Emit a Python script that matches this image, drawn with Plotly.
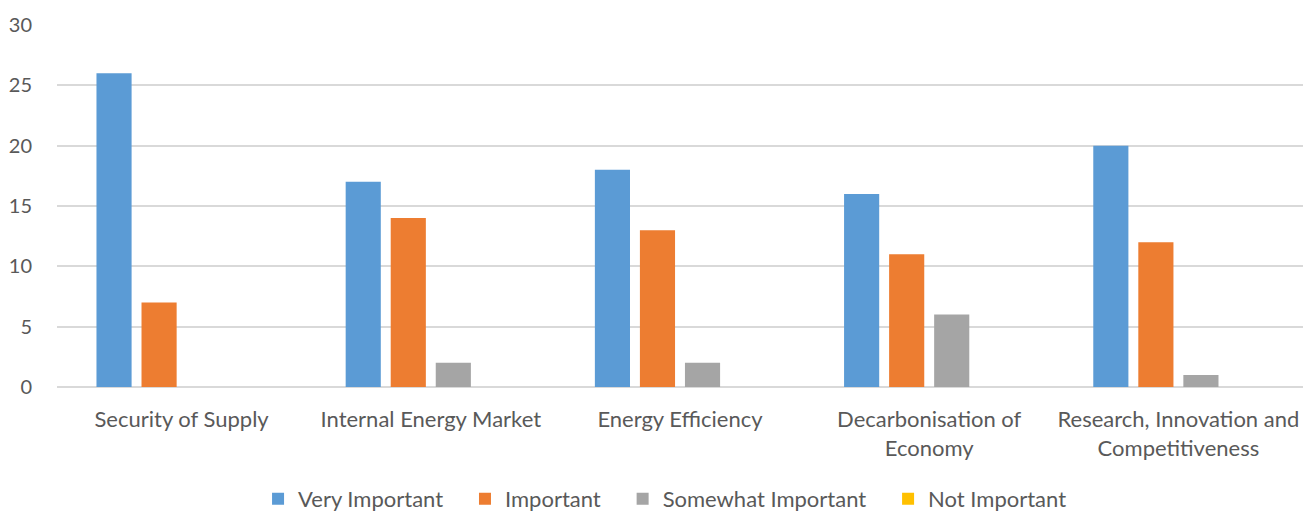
import plotly.graph_objects as go

categories = ["Security of Supply", "Internal Energy Market", "Energy Efficiency",
              "Decarbonisation of<br>Economy", "Research, Innovation and<br>Competitiveness"]
series_names = ["Very Important", "Important", "Somewhat Important", "Not Important"]
very_important = [26, 17, 18, 16, 20]
important = [7, 14, 13, 11, 12]
somewhat_important = [0, 2, 2, 6, 1]
not_important = [0, 0, 0, 0, 0]
colors = ["#5B9BD5", "#ED7D31", "#A5A5A5", "#FFC000"]
y_ticks = [0, 5, 10, 15, 20, 25, 30]

pad = "\u00a0" * 3
fig = go.Figure()
for i, (name, vals, c) in enumerate(zip(series_names,
                         [very_important, important, somewhat_important, not_important],
                         colors)):
    label = name + (pad if i < len(series_names) - 1 else "")
    fig.add_trace(go.Bar(x=categories, y=vals, name=label, marker_color=c,
                         marker_line_width=0))

fam = "Lato, Open Sans, sans-serif"
fig.update_layout(
    width=1303, height=511,
    margin=dict(l=57, r=0, t=25, b=124, autoexpand=False),
    paper_bgcolor="white", plot_bgcolor="white",
    barmode="group", bargap=0.277, bargroupgap=0.22,
    font=dict(family=fam, size=20, color="#595959"),
    showlegend=True,
    legend=dict(orientation="h", x=0.488, xanchor="center", y=-0.309, yanchor="middle",
                font=dict(family=fam, size=22, color="#595959"),
                itemwidth=30, traceorder="normal"),
    xaxis=dict(showgrid=False, showline=False, ticks="", automargin=False,
               tickfont=dict(family=fam, size=22, color="#595959"),
               ticklabelstandoff=17),
    yaxis=dict(range=[0, 30], tickvals=y_ticks, showgrid=True, gridcolor="#D9D9D9",
               gridwidth=1.5, zeroline=True, zerolinecolor="#D9D9D9", zerolinewidth=1.5,
               showline=False, ticks="", automargin=False,
               tickfont=dict(family=fam, size=20, color="#595959"),
               ticklabelstandoff=24),
)
fig.write_html("out.html")
